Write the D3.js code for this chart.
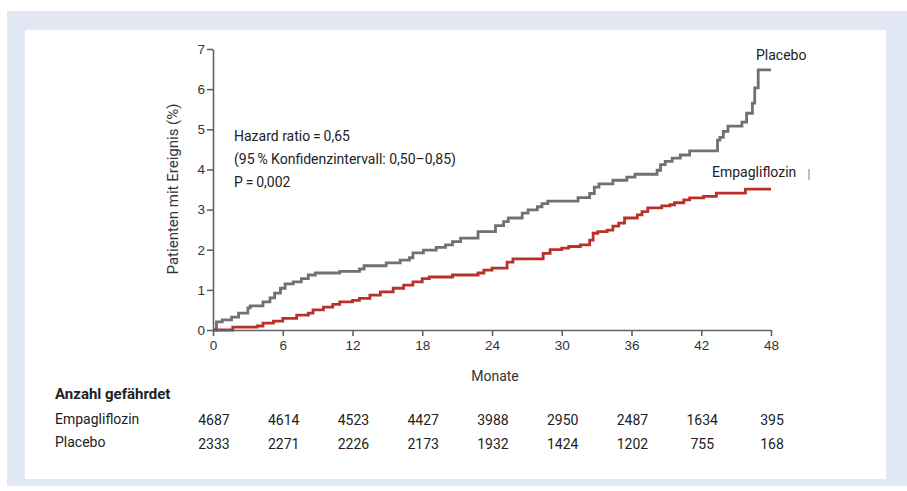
<!DOCTYPE html>
<html>
<head>
<meta charset="utf-8">
<script src="https://cdn.jsdelivr.net/npm/d3@7"></script>
<style>
  body { margin: 0; background: #fff; }
  svg { display: block; font-family: Roboto, "Liberation Sans", sans-serif; }
  .axis path, .axis line { stroke: #5f6366; stroke-width: 1.6px; }
  .axis text { font-size: 13.5px; fill: #333; }
</style>
</head>
<body>
<div class="chart"></div>
<script>
// months / cumulative event rate (%)
const placeboMonths = [0, 0.3, 0.8, 1.6, 2.2, 3.0, 3.2, 4.3, 4.9, 5.3, 5.8, 6.2, 6.9, 7.6, 8.2, 8.8, 10.9, 12.6, 13.0, 14.9, 16.1, 16.9, 17.2, 18.1, 19.2, 20.0, 20.6, 21.3, 22.8, 24.3, 25.0, 25.4, 26.6, 27.1, 27.9, 28.3, 28.8, 31.4, 32.4, 32.8, 33.2, 34.4, 35.6, 36.3, 38.2, 38.5, 38.9, 39.5, 40.2, 41.0, 43.4, 43.6, 43.9, 44.3, 45.5, 45.9, 46.4, 46.6, 46.9, 48.0];
const placeboRisk = [0, 0.2, 0.25, 0.32, 0.42, 0.55, 0.6, 0.7, 0.8, 0.92, 1.04, 1.15, 1.2, 1.28, 1.37, 1.42, 1.46, 1.52, 1.6, 1.67, 1.74, 1.8, 1.92, 1.99, 2.06, 2.12, 2.2, 2.29, 2.45, 2.6, 2.7, 2.79, 2.91, 2.99, 3.07, 3.15, 3.21, 3.3, 3.4, 3.56, 3.64, 3.73, 3.81, 3.88, 3.98, 4.12, 4.2, 4.28, 4.36, 4.46, 4.73, 4.8, 4.95, 5.08, 5.18, 5.4, 5.65, 6.03, 6.48, 6.48];

const empaMonths = [0, 1.7, 3.8, 4.3, 5.2, 6.0, 7.2, 8.2, 8.6, 9.5, 10.3, 10.9, 12.0, 12.6, 13.5, 14.4, 15.5, 16.4, 17.2, 18.0, 18.6, 20.6, 22.8, 23.3, 24.0, 25.3, 25.8, 28.4, 29.0, 30.0, 30.6, 31.6, 32.4, 32.7, 33.1, 33.9, 34.4, 34.9, 35.4, 36.5, 36.9, 37.4, 38.6, 39.3, 39.7, 40.5, 41.0, 42.2, 43.3, 45.8, 48.0];
const empaRisk = [0, 0.07, 0.1, 0.17, 0.22, 0.29, 0.37, 0.42, 0.5, 0.57, 0.64, 0.7, 0.74, 0.79, 0.87, 0.95, 1.04, 1.12, 1.2, 1.28, 1.32, 1.37, 1.42, 1.49, 1.54, 1.69, 1.77, 1.91, 2.0, 2.04, 2.08, 2.12, 2.24, 2.41, 2.45, 2.49, 2.59, 2.66, 2.79, 2.87, 2.95, 3.04, 3.09, 3.12, 3.17, 3.24, 3.29, 3.33, 3.41, 3.51, 3.51];

const xTicks = [0, 6, 12, 18, 24, 30, 36, 42, 48];
const yTicks = [0, 1, 2, 3, 4, 5, 6, 7];

// numbers at risk
const riskMonths = [0, 6, 12, 18, 24, 30, 36, 42, 48];
const empaAtRisk = [4687, 4614, 4523, 4427, 3988, 2950, 2487, 1634, 395];
const placeboAtRisk = [2333, 2271, 2226, 2173, 1932, 1424, 1202, 755, 168];

const statLines = ["Hazard ratio\u2009=\u20090,65", "(95\u2009% Konfidenzintervall: 0,50\u20130,85)", "P\u2009=\u20090,002"];

const w = 907;
const h = 491;

const svg = d3.select(".chart").append("svg").attr("width", w).attr("height", h);

// light blue frame with white panel
svg.append("rect").attr("x", 7).attr("y", 11).attr("width", 900).attr("height", 475).attr("fill", "#e1e8f4");
svg.append("rect").attr("x", 25).attr("y", 30).attr("width", 861).attr("height", 449).attr("fill", "#fff");

const xScale = d3.scaleLinear().domain([0, 48]).range([213, 771]);
const yScale = d3.scaleLinear().domain([0, 7]).range([330, 49]);

const line = d3.line()
  .x((d) => xScale(d[0]))
  .y((d) => yScale(d[1]))
  .curve(d3.curveStepAfter);

const placebo = placeboMonths.map((m, i) => [m, placeboRisk[i]]);
const empa = empaMonths.map((m, i) => [m, empaRisk[i]]);

svg.append("path").datum(placebo).attr("d", line)
  .attr("fill", "none").attr("stroke", "#6e7276").attr("stroke-width", 2.8);
svg.append("path").datum(empa).attr("d", line)
  .attr("fill", "none").attr("stroke", "#b8322b").attr("stroke-width", 2.8);

const xAxis = d3.axisBottom(xScale).tickValues(xTicks).tickSize(6).tickSizeOuter(0).tickPadding(4);
const yAxis = d3.axisLeft(yScale).tickValues(yTicks).tickSize(6).tickSizeOuter(0).tickPadding(2)
  .tickFormat(d3.format("d"));

svg.append("g").attr("class", "axis").attr("transform", "translate(0,330)").call(xAxis);
svg.append("g").attr("class", "axis").attr("transform", "translate(213,0)").call(yAxis);

// axis titles
svg.append("text")
  .attr("transform", "translate(178,189) rotate(-90)")
  .attr("text-anchor", "middle")
  .style("font-size", "15px").attr("fill", "#333")
  .text("Patienten mit Ereignis (%)");
svg.append("text")
  .attr("x", 495).attr("y", 381)
  .attr("text-anchor", "middle")
  .style("font-size", "14px").attr("fill", "#333")
  .text("Monate");

// curve labels
svg.append("text").attr("x", 756).attr("y", 60)
  .style("font-size", "14px").attr("fill", "#222").text("Placebo");
svg.append("text").attr("x", 712).attr("y", 177)
  .style("font-size", "14px").attr("fill", "#222").text("Empagliflozin");
svg.append("line").attr("x1", 809).attr("x2", 809).attr("y1", 169).attr("y2", 180)
  .attr("stroke", "#aaa").attr("stroke-width", 1.5);

// statistics
svg.append("g").selectAll("text").data(statLines).enter().append("text")
  .attr("x", 234)
  .attr("y", (d, i) => 141 + i * 23)
  .style("font-size", "14px").attr("fill", "#222")
  .text((d) => d);

// numbers at risk table
svg.append("text").attr("x", 55).attr("y", 399)
  .style("font-size", "15px").style("font-weight", "bold").attr("fill", "#222")
  .text("Anzahl gefährdet");
svg.append("text").attr("x", 55).attr("y", 424)
  .style("font-size", "14px").attr("fill", "#222").text("Empagliflozin");
svg.append("text").attr("x", 55).attr("y", 447)
  .style("font-size", "14px").attr("fill", "#222").text("Placebo");

svg.append("g").selectAll("text").data(empaAtRisk).enter().append("text")
  .attr("x", (d, i) => xScale(riskMonths[i]) + 1)
  .attr("y", 425)
  .attr("text-anchor", "middle")
  .style("font-size", "14px").attr("fill", "#222")
  .text((d) => d);
svg.append("g").selectAll("text").data(placeboAtRisk).enter().append("text")
  .attr("x", (d, i) => xScale(riskMonths[i]) + 1)
  .attr("y", 449)
  .attr("text-anchor", "middle")
  .style("font-size", "14px").attr("fill", "#222")
  .text((d) => d);
</script>
</body>
</html>
